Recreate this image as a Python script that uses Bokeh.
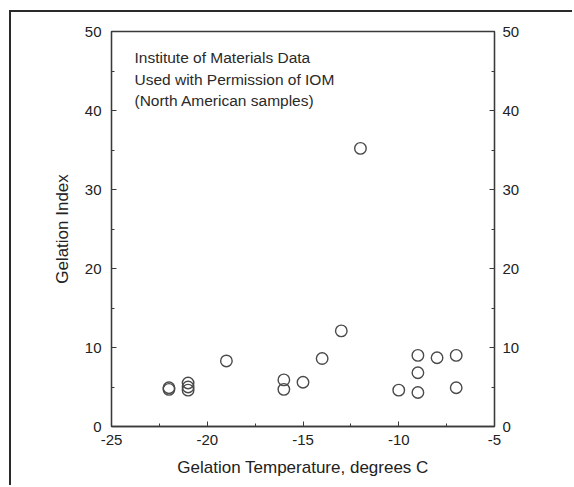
from bokeh.plotting import figure
from bokeh.models import LinearAxis, Range1d, FixedTicker, Label, PrintfTickFormatter
from bokeh.embed import file_html
from bokeh.resources import INLINE

temps = [-22.0, -22.0, -21.0, -21.0, -21.0, -19.0, -16.0, -16.0, -15.0, -14.0,
         -13.0, -12.0, -10.0, -9.0, -9.0, -9.0, -8.0, -7.0, -7.0]
index = [4.7, 4.9, 5.5, 5.0, 4.6, 8.3, 5.9, 4.7, 5.6, 8.6,
         12.1, 35.2, 4.6, 9.0, 6.8, 4.3, 8.7, 9.0, 4.9]
x_ticks = [-25, -20, -15, -10, -5]
x_minor = [-22.5, -17.5, -12.5, -7.5]
y_ticks = [0, 10, 20, 30, 40, 50]
y_minor = [5, 15, 25, 35, 45]
notes = ["Institute of Materials Data", "Used with Permission of IOM", "(North American samples)"]

FONT = "Liberation Sans"
INK = "#3a3a3a"

p = figure(width=563, height=475, output_backend="svg", toolbar_location=None,
           x_range=Range1d(-25, -5), y_range=Range1d(0, 50),
           min_border_left=100, min_border_right=80, min_border_top=19, min_border_bottom=61)
p.margin = (10, 0, 0, 9)
p.styles = {"border-left": "2px solid #2a2a2a", "border-top": "2px solid #2a2a2a"}
p.background_fill_color = "white"
p.border_fill_color = "white"
p.xgrid.visible = False
p.ygrid.visible = False
p.outline_line_color = INK
p.outline_line_width = 1.3


def style(ax):
    ax.formatter = PrintfTickFormatter(format="%d")
    ax.axis_line_color = INK
    ax.axis_line_width = 1.3
    ax.major_tick_in = 5
    ax.major_tick_out = 0
    ax.minor_tick_in = 3
    ax.minor_tick_out = 0
    ax.major_tick_line_color = INK
    ax.minor_tick_line_color = INK
    ax.major_label_text_font = FONT
    ax.major_label_text_font_size = "15px"
    ax.major_label_text_color = "#222222"
    ax.axis_label_text_font = FONT
    ax.axis_label_text_font_size = "17px"
    ax.axis_label_text_font_style = "normal"
    ax.axis_label_text_color = "#222222"


xa = p.xaxis[0]
xa.ticker = FixedTicker(ticks=x_ticks, minor_ticks=x_minor)
xa.axis_label = "Gelation Temperature, degrees C"
style(xa)
xa.major_label_standoff = 8
xa.axis_label_standoff = 10

ya = p.yaxis[0]
ya.ticker = FixedTicker(ticks=y_ticks, minor_ticks=y_minor)
ya.axis_label = "Gelation Index"
style(ya)
ya.major_label_standoff = 10
ya.axis_label_standoff = 10

ra = LinearAxis(ticker=FixedTicker(ticks=y_ticks, minor_ticks=y_minor))
style(ra)
ra.major_label_standoff = 8
p.add_layout(ra, "right")

p.scatter(temps, index, marker="circle", size=11.5, fill_color=None,
          line_color="#4a4a4a", line_width=1.4)

for i, t in enumerate(notes):
    p.add_layout(Label(x=-23.8, y=46.7 - 2.73 * i, text=t, text_font=FONT,
                       text_font_size="15.5px", text_color="#2a2a2a",
                       text_baseline="middle"))

open("out.html", "w").write(file_html(p, INLINE))
